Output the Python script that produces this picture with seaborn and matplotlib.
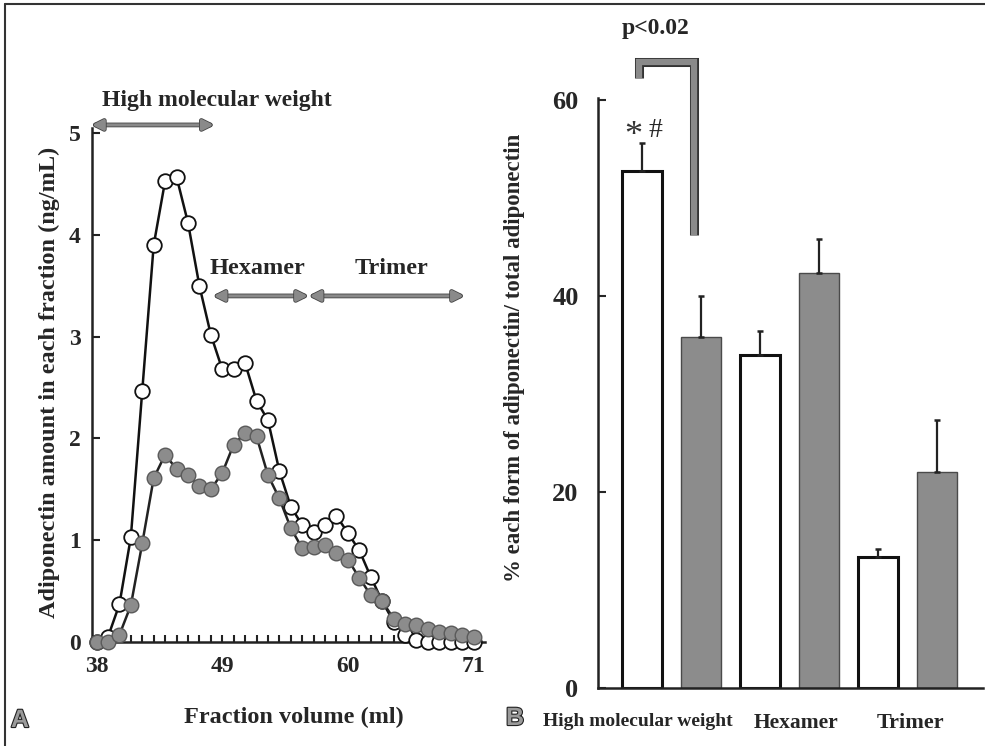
import matplotlib
matplotlib.use("Agg")
import matplotlib.pyplot as plt
from matplotlib import patheffects as pe
from matplotlib.lines import Line2D
import numpy as np
import pandas as pd
import seaborn as sns

# ---------------- data ----------------
fractions = [38, 39, 40, 41, 42, 43, 44, 45, 46, 47, 48, 49, 50, 51, 52, 53, 54,
             55, 56, 57, 58, 59, 60, 61, 62, 63, 64, 65, 66, 67, 68, 69, 70, 71]
amount_open = [0.0, 0.05, 0.37, 1.03, 2.47, 3.90, 4.53, 4.57, 4.12, 3.50, 3.02, 2.68,
               2.68, 2.74, 2.37, 2.18, 1.68, 1.33, 1.15, 1.08, 1.15, 1.24, 1.07, 0.90,
               0.64, 0.40, 0.20, 0.07, 0.02, 0.0, 0.0, 0.0, 0.0, 0.0]
amount_filled = [0.0, 0.0, 0.07, 0.36, 0.97, 1.61, 1.84, 1.70, 1.64, 1.53, 1.50, 1.66,
                 1.94, 2.05, 2.02, 1.64, 1.41, 1.12, 0.92, 0.93, 0.95, 0.87, 0.81, 0.63,
                 0.46, 0.40, 0.23, 0.18, 0.17, 0.13, 0.10, 0.09, 0.07, 0.05]
x_tick_values_A = [38, 49, 60, 71]
x_tick_labels_A = ["38", "49", "60", "71"]
y_ticks_A = [0, 1, 2, 3, 4, 5]

forms = ["High molecular weight", "Hexamer", "Trimer"]
pct_open = [52.8, 34.0, 13.4]
err_open = [2.8, 2.4, 0.8]
pct_filled = [35.8, 42.3, 22.0]
err_filled = [4.2, 3.5, 5.3]
y_ticks_B = [0, 20, 40, 60]

# ---------------- style ----------------
sns.set_style("ticks")
plt.rcParams["font.family"] = ["Liberation Serif", "DejaVu Serif"]
plt.rcParams["font.weight"] = "bold"
plt.rcParams["axes.linewidth"] = 1.8
plt.rcParams["axes.edgecolor"] = "#222222"

fig = plt.figure(figsize=(9.85, 7.46), dpi=100)
axA = fig.add_axes([92 / 985, 104 / 746, 393 / 985, 514 / 746])
axB = fig.add_axes([598 / 985, 58 / 746, 385 / 985, 590 / 746])

# ---------------- panel A ----------------
dfA = pd.DataFrame({
    "fraction": fractions + fractions,
    "amount": amount_open + amount_filled,
    "group": ["open"] * len(fractions) + ["filled"] * len(fractions),
})
sns.lineplot(data=dfA[dfA.group == "open"], x="fraction", y="amount", ax=axA,
             color="#111111", lw=1.8, marker="o", markersize=10.5,
             markerfacecolor="white", markeredgecolor="#111111",
             markeredgewidth=1.3, clip_on=False, zorder=3)
sns.lineplot(data=dfA[dfA.group == "filled"], x="fraction", y="amount", ax=axA,
             color="#222222", lw=1.8, marker="o", markersize=10.5,
             markerfacecolor="#8c8c8c", markeredgecolor="#5a5a5a",
             markeredgewidth=1.0, clip_on=False, zorder=4)

axA.set_xlim(37.6, 72.0)
axA.set_ylim(0, 5.05)
axA.set_xticks(x_tick_values_A)
axA.set_xticklabels(x_tick_labels_A)
axA.set_xticks(fractions, minor=True)
axA.set_yticks(y_ticks_A)
axA.tick_params(axis="both", which="both", direction="in", width=1.5, color="#222222")
axA.tick_params(axis="x", which="both", length=5, labelsize=17, pad=10)
axA.tick_params(axis="y", length=6, labelsize=17, pad=8)
sns.despine(ax=axA)
axA.set_ylabel("Adiponectin amount in each fraction (ng/mL)", fontsize=17.5,
               fontweight="bold")
axA.yaxis.set_label_coords(-0.081, 0.506)
axA.set_xlabel("Fraction volume (ml)", fontsize=17.5, fontweight="bold")
axA.xaxis.set_label_coords(0.514, -0.126)


def dbl_arrow(ax, x0, x1, y):
    ann = ax.annotate("", xy=(x0, y), xytext=(x1, y),
                      arrowprops=dict(arrowstyle="<|-|>", color="#8a8a8a", lw=2.2,
                                      mutation_scale=16, shrinkA=0, shrinkB=0),
                      annotation_clip=False)
    ann.arrow_patch.set_path_effects([pe.Stroke(linewidth=3.4, foreground="#444444"),
                                      pe.Normal()])


dbl_arrow(axA, 37.6, 48.25, 5.08)
dbl_arrow(axA, 48.25, 56.5, 3.40)
dbl_arrow(axA, 56.65, 70.15, 3.40)
axA.text(38.46, 5.32, "High molecular weight", fontsize=17, fontweight="bold",
         ha="left", va="center")
axA.text(52.1, 3.67, "Hexamer", fontsize=17.5, fontweight="bold", ha="center", va="center")
axA.text(63.8, 3.67, "Trimer", fontsize=17.5, fontweight="bold", ha="center", va="center")

# ---------------- panel B ----------------
dfB = pd.DataFrame({
    "form": forms + forms,
    "percent": pct_open + pct_filled,
    "group": ["open"] * len(forms) + ["filled"] * len(forms),
})
sns.barplot(data=dfB, x="form", y="percent", hue="group", hue_order=["open", "filled"],
            palette={"open": "white", "filled": "#8c8c8c"}, width=1.0, gap=0.32,
            errorbar=None, legend=False, ax=axB, edgecolor="#111111", linewidth=2.2)
conts = list(axB.containers)
for bar in conts[1]:
    bar.set_edgecolor("#4a4a4a")
    bar.set_linewidth(1.0)
for cont, errs in zip(conts, [err_open, err_filled]):
    for bar, e in zip(cont, errs):
        cx = bar.get_x() + bar.get_width() / 2
        h = bar.get_height()
        axB.errorbar(cx, h, yerr=[[0], [e]], fmt="none", ecolor="#222222",
                     elinewidth=1.6, capsize=2.5, capthick=1.8, zorder=1)

axB.set_xlim(-0.62, 2.64)
axB.set_ylim(0, 60.2)
axB.set_yticks(y_ticks_B)
axB.set_xticks([-0.28, 1.055, 2.03])
axB.set_xticklabels(forms)
for lab, fs in zip(axB.get_xticklabels(), [14, 15.5, 16]):
    lab.set_fontsize(fs)
axB.tick_params(axis="y", direction="in", length=6, width=1.5, labelsize=19, pad=14)
axB.tick_params(axis="x", length=0, pad=18)
sns.despine(ax=axB)
axB.set_xlabel("")
axB.set_ylabel("% each form of adiponectin/ total adiponectin", fontsize=16.5,
               fontweight="bold")
axB.yaxis.set_label_coords(-0.19, 0.56)

# significance bracket
bx = [-0.27, -0.27, 0.19, 0.19]
by = [62.2, 63.9, 63.9, 46.2]
axB.plot(bx, by, color="#333333", lw=6.5, clip_on=False, solid_joinstyle="miter",
         solid_capstyle="butt", zorder=5)
axB.plot(bx, by, color="#8a8a8a", lw=4.5, clip_on=False, solid_joinstyle="miter",
         solid_capstyle="butt", zorder=6)
axB.text(-0.13, 67.3, "p<0.02", fontsize=17, fontweight="bold", ha="center",
         va="center", clip_on=False)
axB.text(-0.32, 56.3, "*", fontsize=26, fontweight="normal", ha="center",
         va="center", color="#333333")
axB.text(-0.13, 56.9, "#", fontsize=20, fontweight="normal", ha="center", va="center")

# panel letters
for x, y, s in [(20, 720, "A"), (515, 718, "B")]:
    fig.text(x / 985, 1 - y / 746, s, family=["Liberation Sans", "DejaVu Sans"],
             fontsize=18, fontweight="bold", color="#9a9a9a", ha="center", va="center",
             path_effects=[pe.withStroke(linewidth=1.6, foreground="#222222")])

# outer frame lines
fig.add_artist(Line2D([5 / 985, 5 / 985], [0, 1 - 4 / 746], transform=fig.transFigure,
                      color="#333333", lw=1.5))
fig.add_artist(Line2D([5 / 985, 1], [1 - 4 / 746, 1 - 4 / 746],
                      transform=fig.transFigure, color="#333333", lw=1.5))

fig.savefig("out.png", dpi=100)
